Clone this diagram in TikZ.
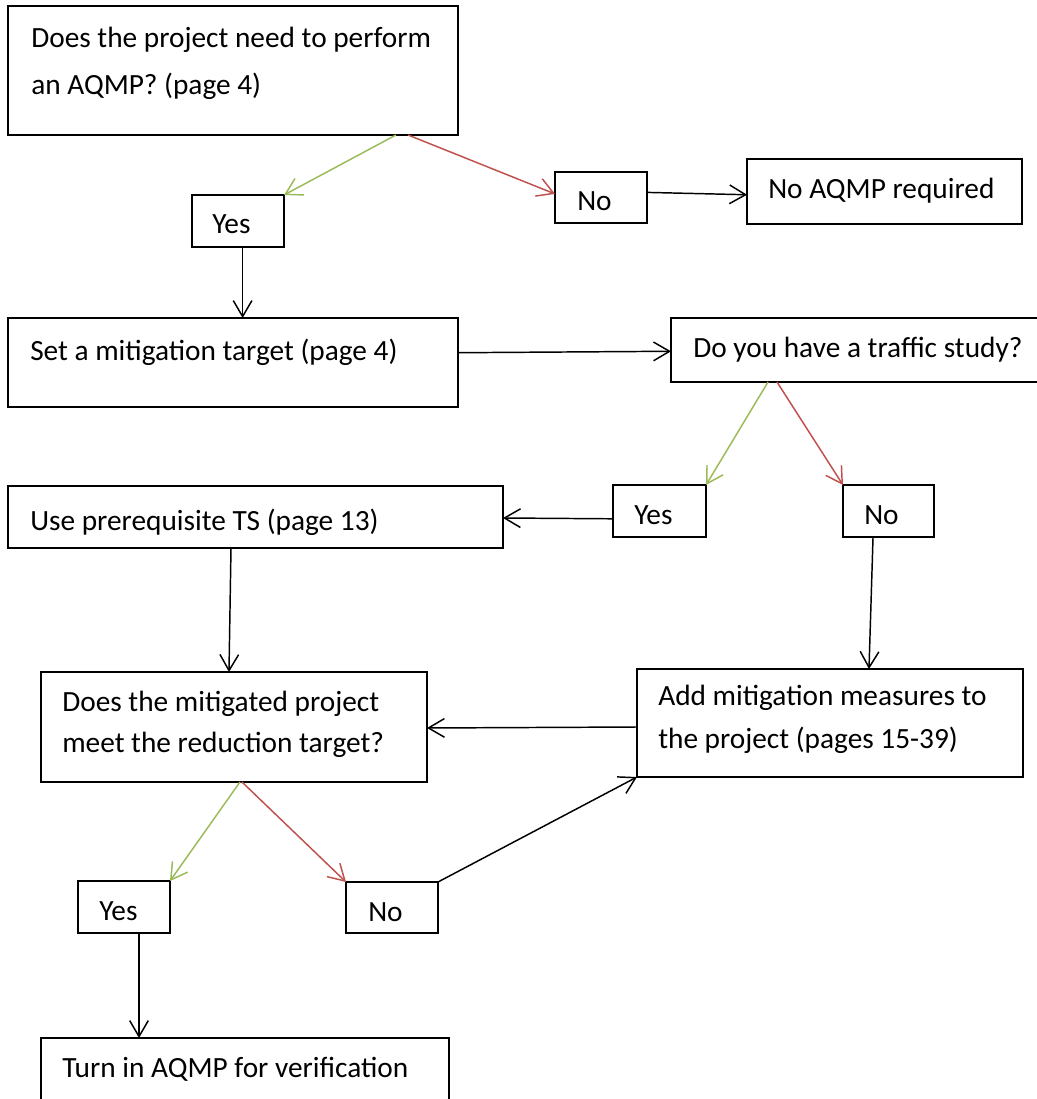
\documentclass[tikz,border=0pt]{standalone}
\usepackage{fontspec}
\setmainfont{Carlito}
\usetikzlibrary{arrows.meta,calc}
\definecolor{yesgreen}{HTML}{9BBB59}
\definecolor{nored}{HTML}{C0504D}
\begin{document}
\begin{tikzpicture}[x=0.75pt,y=-0.75pt,
  box/.style={draw, line width=1.4pt, inner sep=0pt, outer sep=0pt},
  txt/.style={anchor=base west, inner sep=0pt, font=\fontsize{22}{26}\selectfont},
  conn/.style={line width=1.1pt, -{Straight Barb[length=12pt,width=14pt,line width=1.1pt]}},
  yesarrow/.style={conn, draw=yesgreen},
  noarrow/.style={conn, draw=nored}]
\useasboundingbox (0,0) rectangle (1037,1099);
\fill[white] (0,0) rectangle (1037,1099);

% boxes
\node[box, minimum width=450*0.75pt, minimum height=129*0.75pt] (A) at (233,70.5) {};
\node[box, minimum width=92*0.75pt, minimum height=52*0.75pt] (Yes1) at (238,221) {};
\node[box, minimum width=92*0.75pt, minimum height=51*0.75pt] (No1) at (601,197.5) {};
\node[box, minimum width=275*0.75pt, minimum height=65*0.75pt] (NoReq) at (884.5,191.5) {};
\node[box, minimum width=450*0.75pt, minimum height=89*0.75pt] (Set) at (233,362.5) {};
\node[box, minimum width=374*0.75pt, minimum height=64*0.75pt] (Tr) at (858,350) {};
\node[box, minimum width=93*0.75pt, minimum height=52*0.75pt] (Yes2) at (659.5,511) {};
\node[box, minimum width=91*0.75pt, minimum height=52*0.75pt] (No2) at (888.5,511) {};
\node[box, minimum width=495*0.75pt, minimum height=62*0.75pt] (Use) at (255.5,517) {};
\node[box, minimum width=386*0.75pt, minimum height=108*0.75pt] (Add) at (830,723) {};
\node[box, minimum width=386*0.75pt, minimum height=110*0.75pt] (Mit) at (234,727) {};
\node[box, minimum width=92*0.75pt, minimum height=52*0.75pt] (Yes3) at (124,907) {};
\node[box, minimum width=92*0.75pt, minimum height=51*0.75pt] (No3) at (392,907.5) {};
\node[box, minimum width=408*0.75pt, minimum height=72*0.75pt] (Turn) at (245,1074) {};

% texts
\node[txt] (tA1) at (31,48) {Does the project need to perform};
\node[txt] (tA2) at (31,94) {an AQMP? (page 4)};
\node[txt] (tYes1) at (212,233) {Yes};
\node[txt] (tNo1) at (577,210) {No};
\node[txt] (tNoReq) at (768,198) {No AQMP required};
\node[txt] (tSet) at (30,360) {Set a mitigation target (page 4)};
\node[txt] (tTr) at (693,357) {Do you have a traffic study?};
\node[txt] (tYes2) at (634,524) {Yes};
\node[txt] (tNo2) at (864,524) {No};
\node[txt] (tUse) at (30,530) {Use prerequisite TS (page 13)};
\node[txt] (tAdd1) at (658,705.5) {Add mitigation measures to};
\node[txt] (tAdd2) at (658,748) {the project (pages 15-39)};
\node[txt] (tMit1) at (62,711) {Does the mitigated project};
\node[txt] (tMit2) at (62,752) {meet the reduction target?};
\node[txt] (tYes3) at (99,920) {Yes};
\node[txt] (tNo3) at (368,921) {No};
\node[txt] (tTurn) at (62,1077) {Turn in AQMP for verification};

% connector end points on box borders
\coordinate (a1) at ($(A.south west)!0.862!(A.south east)$);
\coordinate (a2) at ($(A.south west)!0.889!(A.south east)$);
\coordinate (n1w) at ($(No1.north west)!0.43!(No1.south west)$);
\coordinate (n1e) at ($(No1.north east)!0.4!(No1.south east)$);
\coordinate (nrw) at ($(NoReq.north west)!0.55!(NoReq.south west)$);
\coordinate (y1s) at ($(Yes1.south west)!0.55!(Yes1.south east)$);
\coordinate (se) at ($(Set.north east)!0.39!(Set.south east)$);
\coordinate (trw) at ($(Tr.north west)!0.52!(Tr.south west)$);
\coordinate (tr1) at ($(Tr.south west)!0.2594!(Tr.south east)$);
\coordinate (tr2) at ($(Tr.south west)!0.2834!(Tr.south east)$);
\coordinate (y2w) at ($(Yes2.north west)!0.65!(Yes2.south west)$);
\coordinate (ue) at ($(Use.north east)!0.516!(Use.south east)$);
\coordinate (n2s) at ($(No2.south west)!0.33!(No2.south east)$);
\coordinate (addn) at ($(Add.north west)!0.601!(Add.north east)$);
\coordinate (us) at ($(Use.south west)!0.4505!(Use.south east)$);
\coordinate (mn) at ($(Mit.north west)!0.487!(Mit.north east)$);
\coordinate (addw) at ($(Add.north west)!0.537!(Add.south west)$);
\coordinate (me) at ($(Mit.north east)!0.509!(Mit.south east)$);
\coordinate (ms1) at ($(Mit.south west)!0.5155!(Mit.south east)$);
\coordinate (ms2) at ($(Mit.south west)!0.5207!(Mit.south east)$);
\coordinate (y3s) at ($(Yes3.south west)!0.663!(Yes3.south east)$);

% connectors
\draw[yesarrow] (a1) -- (Yes1.north east);
\draw[noarrow] (a2) -- (n1w);
\draw[conn] (n1e) -- (nrw);
\draw[conn] (y1s) -- (y1s |- Set.north);
\draw[conn] (se) -- (trw);
\draw[yesarrow] (tr1) -- (Yes2.north east);
\draw[noarrow] (tr2) -- (No2.north west);
\draw[conn] (y2w) -- (ue);
\draw[conn] (n2s) -- (addn);
\draw[conn] (us) -- (mn);
\draw[conn] (addw) -- (me);
\draw[yesarrow] (ms1) -- (Yes3.north east);
\draw[noarrow] (ms2) -- (No3.north west);
\draw[conn] (y3s) -- (y3s |- Turn.north);
\draw[conn] (No3.north east) -- (Add.south west);
\end{tikzpicture}
\end{document}
